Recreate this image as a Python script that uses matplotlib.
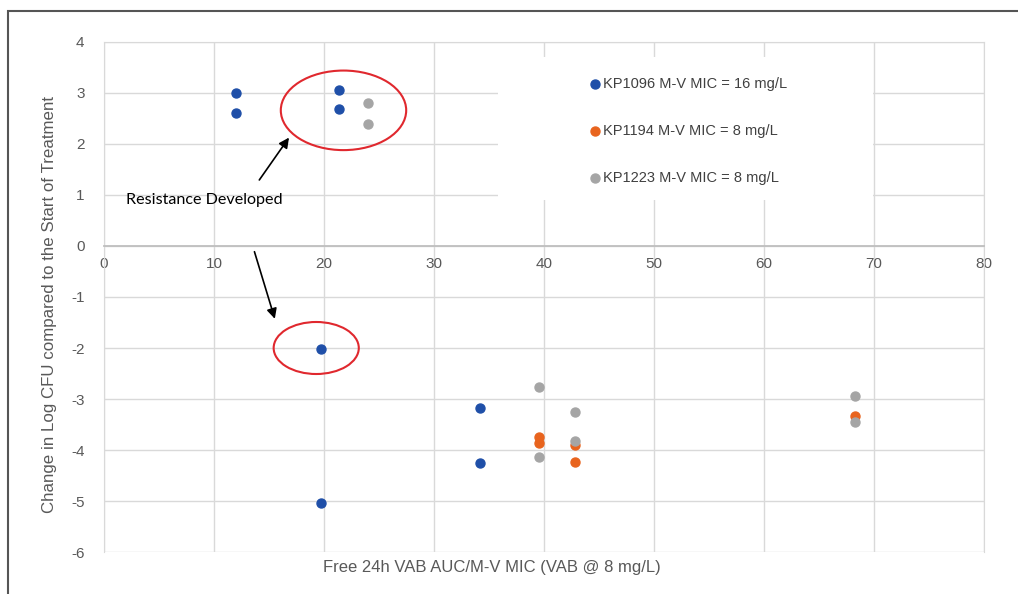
import matplotlib.pyplot as plt
from matplotlib.patches import Ellipse, Rectangle

plt.rcParams.update({'font.family': ['Liberation Sans', 'DejaVu Sans'],
                     'axes.unicode_minus': False})

# data
kp1096_x = [12, 12, 21.4, 21.4, 19.7, 19.7, 34.2, 34.2]
kp1096_y = [3.0, 2.6, 3.05, 2.68, -2.02, -5.03, -3.18, -4.25]
kp1194_x = [39.5, 39.5, 42.8, 42.8, 68.3]
kp1194_y = [-3.74, -3.86, -3.9, -4.24, -3.34]
kp1223_x = [24, 24, 39.5, 39.5, 42.8, 42.8, 68.3, 68.3]
kp1223_y = [2.8, 2.4, -2.77, -4.13, -3.25, -3.83, -2.95, -3.45]

labels = ['KP1096 M-V MIC = 16 mg/L', 'KP1194 M-V MIC = 8 mg/L', 'KP1223 M-V MIC = 8 mg/L']
colors = ['#1f4fa8', '#e8641e', '#a5a5a5']
xticks = list(range(0, 81, 10))
yticks = list(range(-6, 5))

fig = plt.figure(figsize=(10.18, 5.94), dpi=100)
ax = fig.add_axes([0.1022, 0.0707, 0.8644, 0.8586])

grid_c = '#d9d9d9'
text_c = '#595959'

ax.scatter(kp1096_x, kp1096_y, s=42, color=colors[0], label=labels[0], zorder=3)
ax.scatter(kp1194_x, kp1194_y, s=42, color=colors[1], label=labels[1], zorder=3)
ax.scatter(kp1223_x, kp1223_y, s=42, color=colors[2], label=labels[2], zorder=3)

ax.set_xlim(0, 80)
ax.set_ylim(-6, 4)
ax.set_xticks(xticks)
ax.set_yticks(yticks)
ax.grid(True, color=grid_c, lw=1)
ax.set_axisbelow(True)
for s in ['left', 'right', 'top']:
    ax.spines[s].set_color(grid_c)
ax.spines['bottom'].set_position(('data', 0))
ax.spines['bottom'].set_color('#bfbfbf')
ax.spines['bottom'].set_linewidth(1.3)
ax.tick_params(length=0, labelsize=11, labelcolor=text_c)
ax.tick_params(axis='x', pad=8)
ax.tick_params(axis='y', pad=14)

ax.set_xlabel('Free 24h VAB AUC/M-V MIC (VAB @ 8 mg/L)', fontsize=12, color=text_c)
ax.xaxis.set_label_coords(0.441, -0.016)
ax.set_ylabel('Change in Log CFU compared to the Start of Treatment', fontsize=12.2, color=text_c)
ax.yaxis.set_label_coords(-0.053, 0.485)

# white box behind the legend
ax.add_patch(Rectangle((0.448, 0.69), 0.4264, 0.28, transform=ax.transAxes,
                       facecolor='white', edgecolor='none', zorder=2))
ax.legend(loc='upper left', bbox_to_anchor=(0.5266, 0.957), frameon=False,
          handletextpad=-0.45, labelspacing=2.25, markerscale=1.0,
          prop={'size': 10.5, 'family': 'Liberation Sans'}, labelcolor='#404040')

# annotations
ax.text(2.0, 0.9, 'Resistance Developed', fontsize=11.6, family=['Lato', 'DejaVu Sans'],
        color='black', ha='left', va='center')
ax.annotate('', xy=(16.96, 2.17), xytext=(13.97, 1.25),
            arrowprops=dict(arrowstyle='-|>', color='black', lw=1.2, mutation_scale=15))
ax.annotate('', xy=(15.6, -1.48), xytext=(13.6, -0.06),
            arrowprops=dict(arrowstyle='-|>', color='black', lw=1.2, mutation_scale=15))
ax.add_patch(Ellipse((21.77, 2.66), 11.4, 1.56, fill=False, edgecolor='#e0282e', lw=1.5, zorder=4))
ax.add_patch(Ellipse((19.29, -2.0), 7.74, 1.02, fill=False, edgecolor='#e0282e', lw=1.5, zorder=4))

# outer frame of the figure
fig.patches.append(Rectangle((8 / 1018, -0.05), 1.1, 1.05 - 11 / 594, transform=fig.transFigure,
                             fill=False, edgecolor='#555555', lw=1.5))

fig.savefig('out.png', dpi=100)
